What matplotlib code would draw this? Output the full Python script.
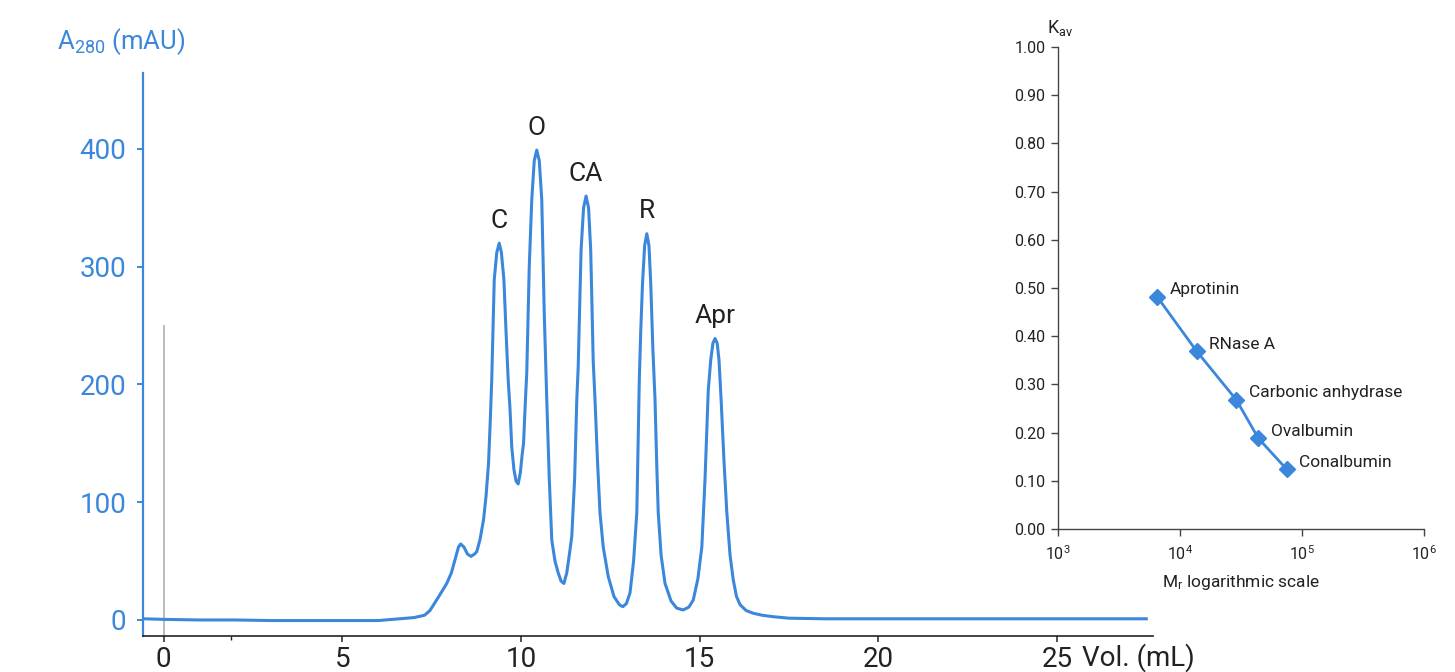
import matplotlib
matplotlib.use("Agg")
import matplotlib.pyplot as plt
from matplotlib.ticker import FixedLocator

plt.rcParams['font.family'] = ['Roboto', 'DejaVu Sans']
plt.rcParams['mathtext.fontset'] = 'custom'
plt.rcParams['mathtext.rm'] = 'Roboto'
plt.rcParams['mathtext.it'] = 'Roboto:italic'

BLUE = '#3b87dc'
DARK = '#222222'

# chromatogram (mL, mAU)
vol = [-0.55, 0, 1, 2, 3, 4, 5, 6, 6.6, 7.0, 7.3, 7.45, 7.7, 7.92, 8.05, 8.15, 8.25, 8.31,
       8.4, 8.5, 8.6, 8.7, 8.76, 8.85, 8.95, 9.02, 9.09, 9.14, 9.18, 9.25, 9.32, 9.39, 9.45,
       9.52, 9.58, 9.64, 9.69, 9.74, 9.8, 9.86, 9.92, 9.98, 10.03, 10.07, 10.12, 10.16,
       10.23, 10.3, 10.37, 10.44, 10.51, 10.58, 10.65, 10.72, 10.79, 10.86, 10.95, 11.04,
       11.12, 11.2, 11.28, 11.35, 11.42, 11.5, 11.56, 11.6, 11.68, 11.75, 11.82, 11.89,
       11.95, 12.02, 12.07, 12.14, 12.21, 12.3, 12.44, 12.6, 12.75, 12.85, 12.95, 13.05,
       13.15, 13.24, 13.31, 13.35, 13.4, 13.46, 13.52, 13.58, 13.63, 13.69, 13.75, 13.8,
       13.84, 13.92, 14.03, 14.2, 14.36, 14.54, 14.7, 14.82, 14.95, 15.06, 15.15, 15.24,
       15.31, 15.37, 15.43, 15.49, 15.54, 15.6, 15.68, 15.76, 15.85, 15.94, 16.03, 16.13,
       16.3, 16.5, 16.75, 17.05, 17.5, 18.5, 20, 22, 24, 26, 27.5]
a280 = [1, 0.5, 0, 0, -0.5, -0.5, -0.5, -0.5, 1, 2, 4, 8, 20, 31, 40, 51, 62, 64.5,
        62, 56, 54, 56, 58, 68, 85, 105, 133, 170, 204, 289, 312, 320, 312,
        289, 245, 204, 180, 147, 128, 118, 115.5, 125, 140, 150, 185, 210,
        300, 357, 390, 399, 390, 357, 260, 187, 120, 68, 50, 40,
        33, 31, 40, 55, 71, 120, 187, 215, 314, 350, 360, 350,
        314, 220, 187, 135, 91, 62, 37, 20, 13, 11.3, 14, 23,
        50, 91, 204, 245, 286, 318, 328, 318, 286, 230, 187, 130,
        91, 55, 31, 16, 10, 8.5, 11, 17, 35, 62, 120, 195,
        221, 235, 239, 235, 221, 187, 135, 91, 55, 34, 20, 13,
        8, 5.7, 4, 2.8, 1.5, 1, 1, 1, 1, 1, 1]

peak_names = ['C', 'O', 'CA', 'R', 'Apr']
peak_vol = [9.39, 10.44, 11.82, 13.52, 15.43]
peak_height = [320, 399, 360, 328, 239]

# calibration curve
proteins = ['Aprotinin', 'RNase A', 'Carbonic anhydrase', 'Ovalbumin', 'Conalbumin']
mr = [6500, 13700, 29000, 44000, 75000]
kav = [0.482, 0.369, 0.268, 0.188, 0.124]

fig = plt.figure(figsize=(14.55, 6.72), dpi=100)

ax = fig.add_axes([0.0983, 0.0536, 0.6942, 0.8378])
ax.plot(vol, a280, color=BLUE, lw=2.2, solid_joinstyle='round')
ax.plot([0, 0], [-13.6, 250], color='#b5b5b5', lw=1.3, zorder=1)
ax.set_xlim(-0.58, 27.69)
ax.set_ylim(-13.6, 464.5)
for s in ['top', 'right']:
    ax.spines[s].set_visible(False)
ax.spines['left'].set_color(BLUE)
ax.spines['left'].set_linewidth(1.6)
ax.spines['bottom'].set_color(DARK)
ax.spines['bottom'].set_linewidth(1.2)
ax.set_yticks([0, 100, 200, 300, 400])
ax.set_xticks([0, 5, 10, 15, 20, 25])
ax.xaxis.set_minor_locator(FixedLocator([1.87]))
ax.tick_params(axis='y', colors=BLUE, labelsize=20, length=4, width=1.4, pad=8)
ax.tick_params(axis='x', colors=DARK, labelsize=20, length=4, width=1.1, pad=3)
ax.tick_params(axis='x', which='minor', length=3, width=1.0, colors=DARK)
for t in ax.get_yticklabels():
    t.set_color(BLUE)

ax.text(-0.085, 1.055, r'A$_{\mathrm{280}}$ (mAU)', transform=ax.transAxes,
        color=BLUE, fontsize=18.5, ha='left', va='center')
ax.text(1.0416, -0.038, 'Vol. (mL)', transform=ax.transAxes, color=DARK,
        fontsize=20, ha='right', va='center')

for name, x, h in zip(peak_names, peak_vol, peak_height):
    ax.text(x, h + 19, name, color=DARK, fontsize=19, ha='center', va='center')

# inset: Kav vs Mr
ins = fig.add_axes([0.7271, 0.2128, 0.2515, 0.7173])
ins.plot(mr, kav, color=BLUE, lw=2.0, marker='D', markersize=8.5, zorder=3)
ins.set_xscale('log')
ins.set_xlim(1e3, 1e6)
ins.set_ylim(0, 1.0)
ins.set_yticks([i / 10 for i in range(11)])
ins.yaxis.set_major_formatter(plt.FormatStrFormatter('%.2f'))
ins.set_xticks([1e3, 1e4, 1e5, 1e6])
ins.xaxis.set_minor_locator(FixedLocator([]))
for s in ['top', 'right']:
    ins.spines[s].set_visible(False)
for s in ['left', 'bottom']:
    ins.spines[s].set_color('#444444')
    ins.spines[s].set_linewidth(1.0)
ins.tick_params(colors='#444444', labelcolor=DARK, labelsize=11.5, length=5, width=1.0, pad=4)
ins.tick_params(axis='x', pad=6)
for name, x, y in zip(proteins, mr, kav):
    ins.annotate(name, (x, y), xytext=(9, 5), textcoords='offset points',
                 fontsize=12.5, color=DARK, ha='left', va='center')
ins.text(-0.03, 1.04, r'K$_{\mathrm{av}}$', transform=ins.transAxes, fontsize=13,
         color=DARK, ha='left', va='center')
ins.text(0.5, -0.112, r'M$_{\mathrm{r}}$ logarithmic scale', transform=ins.transAxes,
         fontsize=12.5, color=DARK, ha='center', va='center')

fig.savefig('out.png', dpi=100)
